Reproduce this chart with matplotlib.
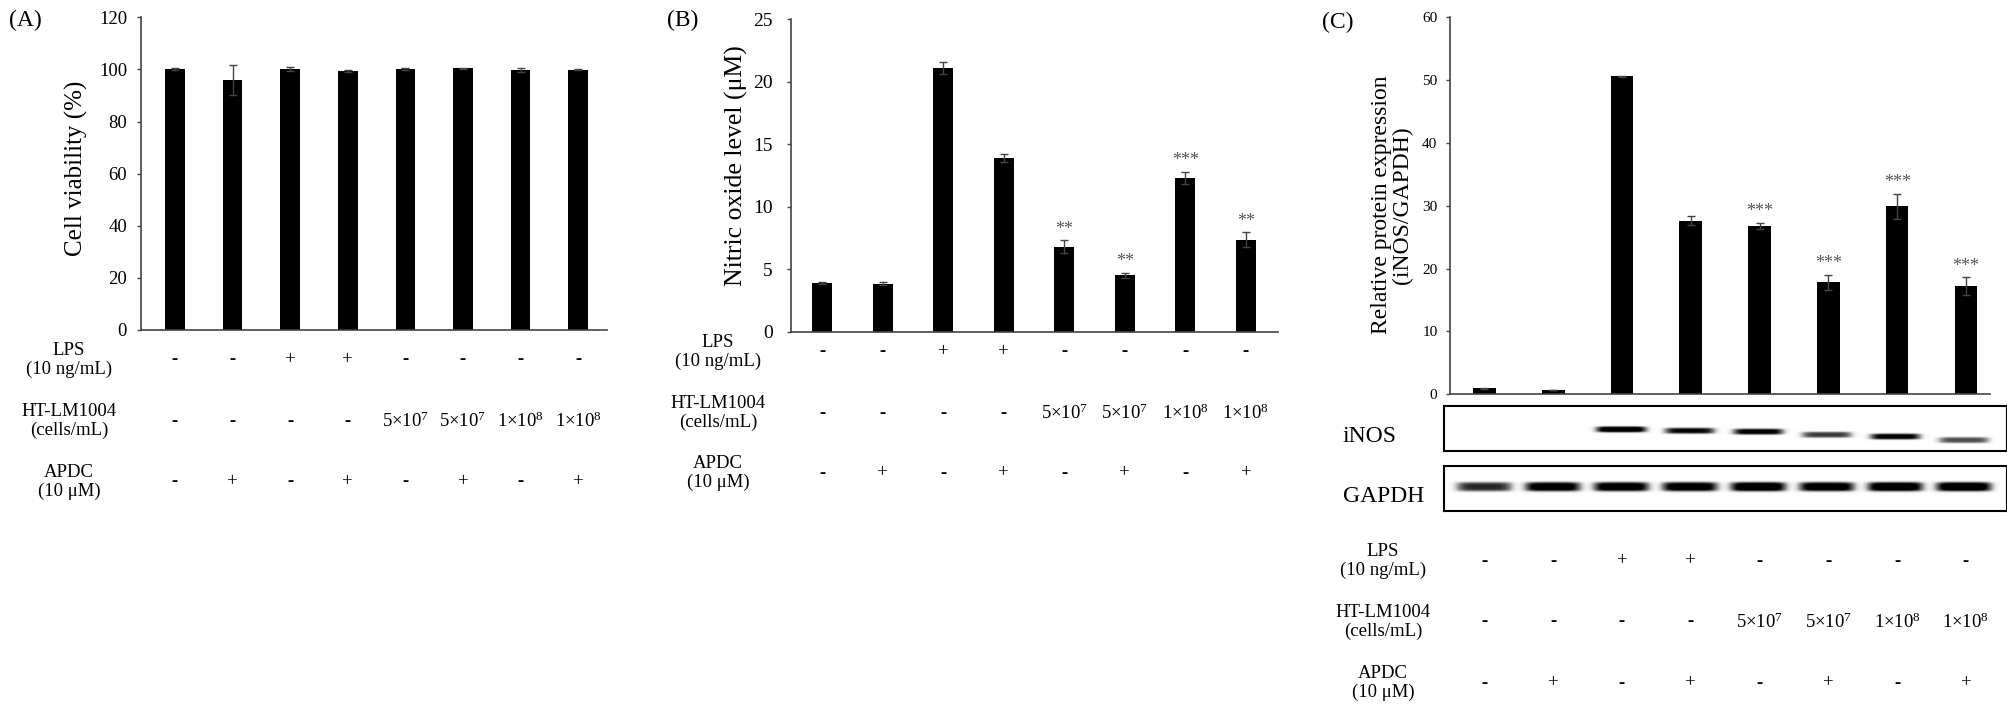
import numpy as np
import matplotlib
matplotlib.use("Agg")
import matplotlib.pyplot as plt
from matplotlib.transforms import blended_transform_factory

plt.rcParams["font.family"] = ["Liberation Serif", "DejaVu Serif"]
plt.rcParams["mathtext.fontset"] = "custom"
plt.rcParams["mathtext.rm"] = "Liberation Serif"
plt.rcParams["mathtext.it"] = "Liberation Serif:italic"

# --- data ---
viability = [100.0, 95.9, 100.2, 99.5, 100.1, 100.4, 99.8, 99.9]
viability_err = [0.4, 5.8, 0.7, 0.3, 0.4, 0.3, 0.9, 0.3]

no_level = [3.9, 3.85, 21.1, 13.9, 6.8, 4.5, 12.3, 7.35]
no_err = [0.1, 0.1, 0.5, 0.3, 0.5, 0.2, 0.5, 0.6]
no_stars = ["", "", "", "", "**", "**", "***", "**"]

inos_ratio = [0.95, 0.7, 50.6, 27.6, 26.8, 17.8, 29.9, 17.2]
inos_err = [0.05, 0.05, 0.1, 0.7, 0.5, 1.2, 2.0, 1.4]
inos_stars = ["", "", "", "", "***", "***", "***", "***"]

# relative band darkness of the western blot lanes
inos_band = [0.0, 0.0, 1.0, 0.85, 0.9, 0.7, 0.9, 0.65]
gapdh_band = [0.75, 0.95, 0.95, 0.95, 1.0, 0.95, 1.0, 1.0]

lps = ["-", "-", "+", "+", "-", "-", "-", "-"]
ht_lm1004 = ["-", "-", "-", "-", "5×10$^{7}$", "5×10$^{7}$", "1×10$^{8}$", "1×10$^{8}$"]
apdc = ["-", "+", "-", "+", "-", "+", "-", "+"]
row_labels = ["LPS\n(10 ng/mL)", "HT-LM1004\n(cells/mL)", "APDC\n(10 μM)"]

W, H = 2008, 707
fig = plt.figure(figsize=(W / 100, H / 100), dpi=100)


def px_axes(left, top, right, bottom):
    return fig.add_axes([left / W, 1 - bottom / H, (right - left) / W, (bottom - top) / H])


def fig_text(x, y, s, **kw):
    return fig.text(x / W, 1 - y / H, s, **kw)


def bar_panel(ax, vals, errs, ymax, step, xlim, width, tick_size, pad):
    x = np.arange(len(vals))
    ax.bar(x, vals, width=width, color="black", zorder=2)
    ax.errorbar(x, vals, yerr=errs, fmt="none", ecolor="#444444",
                elinewidth=1.0, capsize=3, capthick=1.0, zorder=3)
    ax.set_xlim(*xlim)
    ax.set_ylim(0, ymax)
    ax.set_yticks(np.arange(0, ymax + 0.1, step))
    ax.set_xticks([])
    for side in ["top", "right"]:
        ax.spines[side].set_visible(False)
    for side in ["left", "bottom"]:
        ax.spines[side].set_color("#444444")
        ax.spines[side].set_linewidth(1.2)
    ax.tick_params(axis="y", length=3, width=1, color="#444444",
                   labelsize=tick_size, pad=pad)
    return x


def add_stars(ax, x, vals, errs, stars):
    for xi, v, e, s in zip(x, vals, errs, stars):
        if s:
            ax.annotate(s, (xi, v + e), xytext=(0, 8), textcoords="offset points",
                        ha="center", va="center", fontsize=13, color="#555555")


def draw_table(ax, label_x, row_ys, fontsize):
    tr = blended_transform_factory(ax.transData, fig.transFigure)
    x = np.arange(len(lps))
    for label, row, y in zip(row_labels, [lps, ht_lm1004, apdc], row_ys):
        fig_text(label_x, y, label, ha="center", va="center", fontsize=fontsize,
                 linespacing=1.15)
        for xi, s in zip(x, row):
            weight = "bold" if s == "-" else "normal"
            ax.text(xi, 1 - y / H, s, transform=tr, ha="center", va="center",
                    fontsize=fontsize, fontweight=weight)


# (A) cell viability
axA = px_axes(141, 17.3, 607, 330)
bar_panel(axA, viability, viability_err, 120, 20, (-0.59, 7.5), 0.34, 13.5, 7)
fig_text(76, 168, "Cell viability (%)", rotation=90, ha="center", va="center", fontsize=18)
fig_text(25, 20, "(A)", ha="center", va="center", fontsize=17)
draw_table(axA, 69, [360, 421, 482], 13.5)

# (B) nitric oxide
axB = px_axes(790.6, 19.3, 1278, 331.7)
xB = bar_panel(axB, no_level, no_err, 25, 5, (-0.52, 7.53), 0.33, 14, 10)
add_stars(axB, xB, no_level, no_err, no_stars)
fig_text(736, 166, "Nitric oxide level (μM)", rotation=90, ha="center", va="center",
         fontsize=18.5)
fig_text(683, 20, "(B)", ha="center", va="center", fontsize=17)
draw_table(axB, 718, [352, 413, 473], 13.5)

# (C) iNOS / GAPDH
axC = px_axes(1450, 17.3, 1990, 394.3)
xC = bar_panel(axC, inos_ratio, inos_err, 60, 10, (-0.5, 7.35), 0.33, 11, 6)
add_stars(axC, xC, inos_ratio, inos_err, inos_stars)
fig_text(1392, 205, "Relative protein expression\n(iNOS/GAPDH)", rotation=90,
         ha="center", va="center", fontsize=17, linespacing=1.0)
fig_text(1338, 22, "(C)", ha="center", va="center", fontsize=17)
draw_table(axC, 1383, [561, 622, 683], 13.5)

# western blot strips
blot_xlim = ((1444 - 1484) / 68.6, (2007 - 1484) / 68.6)
gx = np.linspace(*blot_xlim, 700)
gy = np.linspace(0, 1, 80)
GX, GY = np.meshgrid(gx, gy)


def blot(ax, strengths, y_centers, half_h, half_w):
    img = np.zeros_like(GX)
    for xi, (s, yc) in enumerate(zip(strengths, y_centers)):
        img += s * np.exp(-np.abs((GX - xi) / half_w) ** 6) * np.exp(-((GY - yc) / half_h) ** 4)
    ax.imshow(np.clip(img, 0, 1), extent=(*blot_xlim, 0, 1), origin="lower",
              cmap="Greys", vmin=0, vmax=0.85, aspect="auto", interpolation="bilinear")
    ax.set_xlim(*blot_xlim)
    ax.set_ylim(0, 1)
    ax.set_xticks([])
    ax.set_yticks([])
    for sp in ax.spines.values():
        sp.set_linewidth(1.5)
        sp.set_color("black")


axI = px_axes(1444, 406, 2007, 451)
inos_y = [0.5, 0.5, 0.48, 0.45, 0.43, 0.36, 0.32, 0.24]
blot(axI, inos_band, inos_y, 0.07, 0.38)
fig_text(1343, 436, "iNOS", ha="left", va="center", fontsize=17)

axG = px_axes(1444, 466, 2007, 511)
blot(axG, gapdh_band, [0.54] * 8, 0.11, 0.42)
fig_text(1343, 496, "GAPDH", ha="left", va="center", fontsize=17)

fig.savefig("out.png", dpi=100)
